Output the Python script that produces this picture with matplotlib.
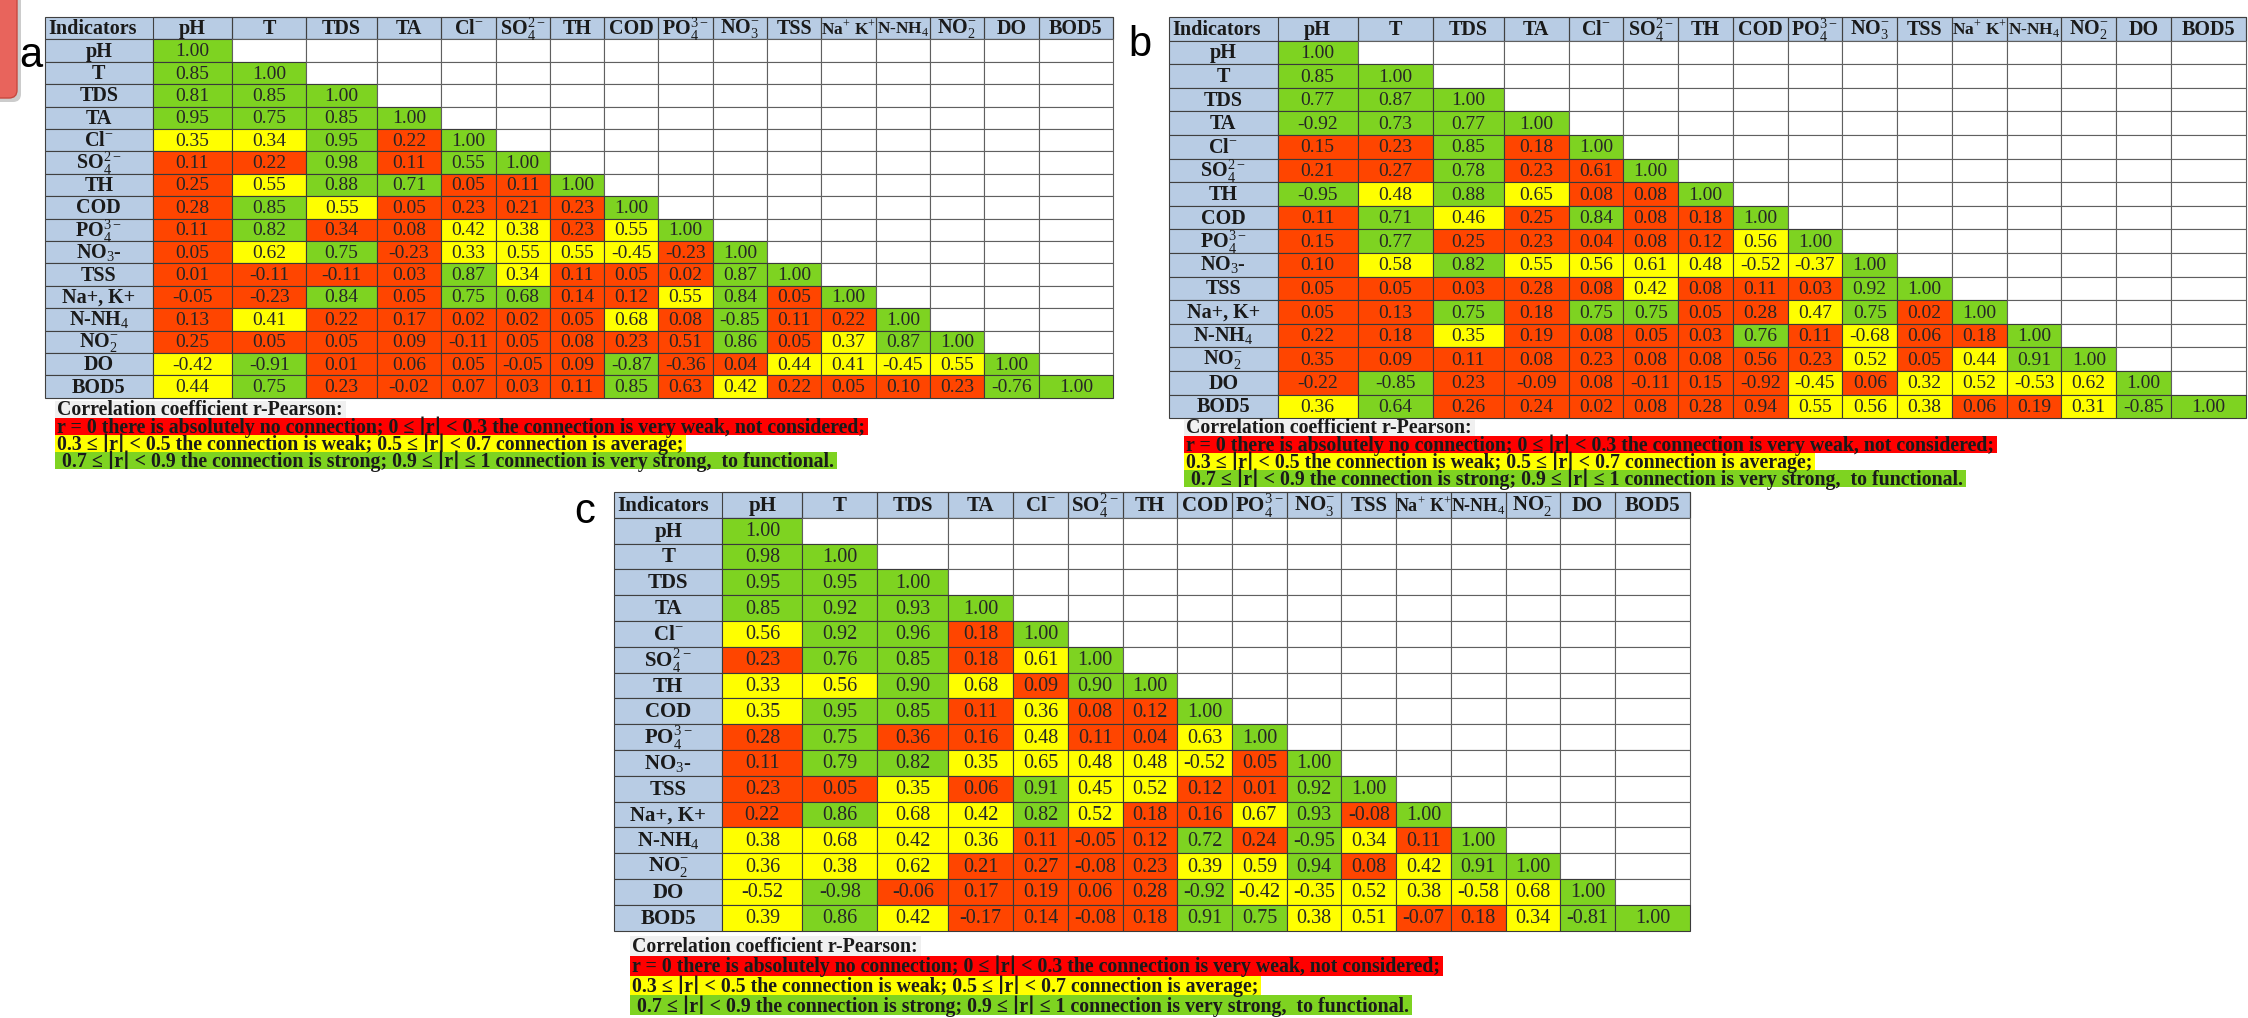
import matplotlib.pyplot as plt
from matplotlib.patches import Rectangle, FancyBboxPatch

# indicators (column headers / row labels)
col_labels = ['pH', 'T', 'TDS', 'TA', 'Cl$^{-}$', 'SO$_{4}^{2-}$', 'TH', 'COD', 'PO$_{4}^{3-}$',
              'NO$_{3}^{-}$', 'TSS', 'Na$^{+}$ K$^{+}$', 'N-NH$_{4}$', 'NO$_{2}^{-}$', 'DO', 'BOD5']
row_labels = ['pH', 'T', 'TDS', 'TA', 'Cl$^{-}$', 'SO$_{4}^{2-}$', 'TH', 'COD', 'PO$_{4}^{3-}$',
              'NO$_{3}$-', 'TSS', 'Na+, K+', 'N-NH$_{4}$', 'NO$_{2}^{-}$', 'DO', 'BOD5']

# lower-triangle correlation values, panel a
a_values = [
    [1.00],
    [0.85, 1.00],
    [0.81, 0.85, 1.00],
    [0.95, 0.75, 0.85, 1.00],
    [0.35, 0.34, 0.95, 0.22, 1.00],
    [0.11, 0.22, 0.98, 0.11, 0.55, 1.00],
    [0.25, 0.55, 0.88, 0.71, 0.05, 0.11, 1.00],
    [0.28, 0.85, 0.55, 0.05, 0.23, 0.21, 0.23, 1.00],
    [0.11, 0.82, 0.34, 0.08, 0.42, 0.38, 0.23, 0.55, 1.00],
    [0.05, 0.62, 0.75, -0.23, 0.33, 0.55, 0.55, -0.45, -0.23, 1.00],
    [0.01, -0.11, -0.11, 0.03, 0.87, 0.34, 0.11, 0.05, 0.02, 0.87, 1.00],
    [-0.05, -0.23, 0.84, 0.05, 0.75, 0.68, 0.14, 0.12, 0.55, 0.84, 0.05, 1.00],
    [0.13, 0.41, 0.22, 0.17, 0.02, 0.02, 0.05, 0.68, 0.08, -0.85, 0.11, 0.22, 1.00],
    [0.25, 0.05, 0.05, 0.09, -0.11, 0.05, 0.08, 0.23, 0.51, 0.86, 0.05, 0.37, 0.87, 1.00],
    [-0.42, -0.91, 0.01, 0.06, 0.05, -0.05, 0.09, -0.87, -0.36, 0.04, 0.44, 0.41, -0.45, 0.55, 1.00],
    [0.44, 0.75, 0.23, -0.02, 0.07, 0.03, 0.11, 0.85, 0.63, 0.42, 0.22, 0.05, 0.10, 0.23, -0.76, 1.00],
]
# cell colour class as drawn in the source (g=strong, y=weak/average, r=very weak)
a_colors = ['g', 'gg', 'ggg', 'gggg', 'yygrg', 'rrgrgg', 'ryggrrg', 'rgyrrrrg', 'rgrryyryg',
            'rygryyyyrg', 'rrrrgyrrrgg', 'rrgrggrrygrg', 'ryrrrrryrgrrg', 'rrrrrrrrrgrygg',
            'ygrrrrrgrryyyyg', 'ygrrrrrgryrrrrgg']

b_values = [
    [1.00],
    [0.85, 1.00],
    [0.77, 0.87, 1.00],
    [-0.92, 0.73, 0.77, 1.00],
    [0.15, 0.23, 0.85, 0.18, 1.00],
    [0.21, 0.27, 0.78, 0.23, 0.61, 1.00],
    [-0.95, 0.48, 0.88, 0.65, 0.08, 0.08, 1.00],
    [0.11, 0.71, 0.46, 0.25, 0.84, 0.08, 0.18, 1.00],
    [0.15, 0.77, 0.25, 0.23, 0.04, 0.08, 0.12, 0.56, 1.00],
    [0.10, 0.58, 0.82, 0.55, 0.56, 0.61, 0.48, -0.52, -0.37, 1.00],
    [0.05, 0.05, 0.03, 0.28, 0.08, 0.42, 0.08, 0.11, 0.03, 0.92, 1.00],
    [0.05, 0.13, 0.75, 0.18, 0.75, 0.75, 0.05, 0.28, 0.47, 0.75, 0.02, 1.00],
    [0.22, 0.18, 0.35, 0.19, 0.08, 0.05, 0.03, 0.76, 0.11, -0.68, 0.06, 0.18, 1.00],
    [0.35, 0.09, 0.11, 0.08, 0.23, 0.08, 0.08, 0.56, 0.23, 0.52, 0.05, 0.44, 0.91, 1.00],
    [-0.22, -0.85, 0.23, -0.09, 0.08, -0.11, 0.15, -0.92, -0.45, 0.06, 0.32, 0.52, -0.53, 0.62, 1.00],
    [0.36, 0.64, 0.26, 0.24, 0.02, 0.08, 0.28, 0.94, 0.55, 0.56, 0.38, 0.06, 0.19, 0.31, -0.85, 1.00],
]
b_colors = ['g', 'gg', 'ggg', 'gggg', 'rrgrg', 'rrgrrg', 'gygyrrg', 'rgyrgrrg', 'rgrrrrryg',
            'rygyyyyyyg', 'rrrrryrrrgg', 'rrgrggrrygrg', 'rryrrrrgryrrg', 'rrrrrrrrryrygg',
            'rgrrrrrryryyyyg', 'ygrrrrrryyyrrygg']

c_values = [
    [1.00],
    [0.98, 1.00],
    [0.95, 0.95, 1.00],
    [0.85, 0.92, 0.93, 1.00],
    [0.56, 0.92, 0.96, 0.18, 1.00],
    [0.23, 0.76, 0.85, 0.18, 0.61, 1.00],
    [0.33, 0.56, 0.90, 0.68, 0.09, 0.90, 1.00],
    [0.35, 0.95, 0.85, 0.11, 0.36, 0.08, 0.12, 1.00],
    [0.28, 0.75, 0.36, 0.16, 0.48, 0.11, 0.04, 0.63, 1.00],
    [0.11, 0.79, 0.82, 0.35, 0.65, 0.48, 0.48, -0.52, 0.05, 1.00],
    [0.23, 0.05, 0.35, 0.06, 0.91, 0.45, 0.52, 0.12, 0.01, 0.92, 1.00],
    [0.22, 0.86, 0.68, 0.42, 0.82, 0.52, 0.18, 0.16, 0.67, 0.93, -0.08, 1.00],
    [0.38, 0.68, 0.42, 0.36, 0.11, -0.05, 0.12, 0.72, 0.24, -0.95, 0.34, 0.11, 1.00],
    [0.36, 0.38, 0.62, 0.21, 0.27, -0.08, 0.23, 0.39, 0.59, 0.94, 0.08, 0.42, 0.91, 1.00],
    [-0.52, -0.98, -0.06, 0.17, 0.19, 0.06, 0.28, -0.92, -0.42, -0.35, 0.52, 0.38, -0.58, 0.68, 1.00],
    [0.39, 0.86, 0.42, -0.17, 0.14, -0.08, 0.18, 0.91, 0.75, 0.38, 0.51, -0.07, 0.18, 0.34, -0.81, 1.00],
]
c_colors = ['g', 'gg', 'ggg', 'gggg', 'yggrg', 'rggryg', 'yygyrgg', 'yggryrrg', 'rgrryrryg',
            'rggyyyyyrg', 'rryrgyyrrgg', 'rgyygyrrygrg', 'yyyyrrrgrgyrg', 'yyyrrrryygrygg',
            'ygrrrrrgyyyyyyg', 'ygyrrrrggyyrrygg']

legend_title = 'Correlation coefficient r-Pearson:'
legend_lines = [
    'r = 0 there is absolutely no connection; 0 \u2264 \u2223r\u2223 < 0.3 the connection is very weak, not considered;',
    '0.3 \u2264 \u2223r\u2223 < 0.5 the connection is weak; 0.5 \u2264 \u2223r\u2223 < 0.7 connection is average;',
    ' 0.7 \u2264 \u2223r\u2223 < 0.9 the connection is strong; 0.9 \u2264 \u2223r\u2223 \u2264 1 connection is very strong,  to functional.',
]

cell_fill = {'g': '#7ED321', 'y': '#FFFF00', 'r': '#FF4500'}
legend_fill = ['#F0F0F0', '#FF0000', '#FFFF00', '#7ED321']
head_fill = '#B8CCE4'
serif = ['Liberation Serif', 'DejaVu Serif']

plt.rcParams['mathtext.fontset'] = 'custom'
plt.rcParams['mathtext.rm'] = 'Liberation Serif'
plt.rcParams['mathtext.bf'] = 'Liberation Serif:bold'

W, H = 2248, 1018
fig = plt.figure(figsize=(W / 100, H / 100), dpi=100)
ax = fig.add_axes([0, 0, 1, 1])
ax.set_xlim(0, W)
ax.set_ylim(H, 0)
ax.axis('off')

base_w = [107, 79, 74, 70, 64] + [54] * 11 + [74]
small_heads = {'Na$^{+}$ K$^{+}$', 'N-NH$_{4}$'}


def draw_table(x0, y0, width, rh, values, colors, fs):
    k = width / sum(base_w)
    cw = [w * k for w in base_w]
    xs = [x0]
    for w in cw:
        xs.append(xs[-1] + w)
    # header row
    ax.add_patch(Rectangle((x0, y0), width, rh, fc=head_fill, ec='#404040', lw=0.8))
    ax.text(x0 + 3, y0 + rh / 2 + 1, 'Indicators', ha='left', va='center', fontsize=fs + 0.5,
            fontweight='bold', family=serif, color='#1a1a1a')
    for j, lab in enumerate(col_labels):
        ax.add_patch(Rectangle((xs[j + 1], y0), cw[j + 1], rh, fc='none', ec='#404040', lw=0.8))
        hs = fs - 1.5 if lab in small_heads else fs + 0.5
        ax.text((xs[j + 1] + xs[j + 2]) / 2, y0 + rh / 2 + 1, lab, ha='center', va='center',
                fontsize=hs, fontweight='bold', family=serif, color='#1a1a1a')
    for i, lab in enumerate(row_labels):
        y = y0 + (i + 1) * rh
        ax.add_patch(Rectangle((x0, y), cw[0], rh, fc=head_fill, ec='#404040', lw=0.8))
        ax.text(x0 + cw[0] / 2, y + rh / 2 + 1, lab, ha='center', va='center', fontsize=fs + 0.5,
                fontweight='bold', family=serif, color='#1a1a1a')
        for j in range(16):
            if j <= i:
                ax.add_patch(Rectangle((xs[j + 1], y), cw[j + 1], rh, fc=cell_fill[colors[i][j]],
                                       ec='#3a3a3a', lw=0.8))
                ax.text((xs[j + 1] + xs[j + 2]) / 2, y + rh / 2 + 1, f'{values[i][j]:.2f}',
                        ha='center', va='center', fontsize=fs, family=serif, color='#262626')
            else:
                ax.add_patch(Rectangle((xs[j + 1], y), cw[j + 1], rh, fc='white',
                                       ec='#606060', lw=0.8))


legend_texts = []


def draw_legend(x0, y0, pitch, fs):
    for n, (line, fc) in enumerate(zip([legend_title] + legend_lines, legend_fill)):
        y = y0 + n * pitch
        t = ax.text(x0 + 2, y + 1, line, ha='left', va='center', fontsize=fs, fontweight='bold',
                    family=serif, color='#1a1a1a', zorder=3)
        legend_texts.append((t, x0, y - pitch / 2, pitch, fc))


draw_table(45, 17, 1068, 22.4, a_values, a_colors, 14)
draw_legend(55, 409, 17, 14.3)
draw_table(1169, 17, 1077, 23.6, b_values, b_colors, 14)
draw_legend(1184, 427, 17, 14.3)
draw_table(614, 492, 1076, 25.8, c_values, c_colors, 14.5)
draw_legend(630, 946, 19.7, 14.3)

# highlight bands behind the legend lines, as wide as each text
fig.canvas.draw()
renderer = fig.canvas.get_renderer()
for t, x, y, h, fc in legend_texts:
    bb = t.get_window_extent(renderer)
    ax.add_patch(Rectangle((x, y), bb.width + 5, h, fc=fc, ec='none', zorder=2))

for lab, (x, y) in zip(['a', 'b', 'c'], [(31, 56), (1140, 45), (585, 512)]):
    ax.text(x, y, lab, ha='center', va='center', fontsize=30, family='Liberation Sans',
            color='black')

# cropped red box in the corner of the source slide
ax.add_patch(FancyBboxPatch((-28, -16), 49, 118, boxstyle='round,pad=0,rounding_size=8',
                            fc='#9A9A9A', ec='none', alpha=0.5))
ax.add_patch(FancyBboxPatch((-30, -20), 47, 118, boxstyle='round,pad=0,rounding_size=8',
                            fc='#E8645C', ec='#C8483F', lw=1.0))

fig.savefig('out.png', dpi=100)
